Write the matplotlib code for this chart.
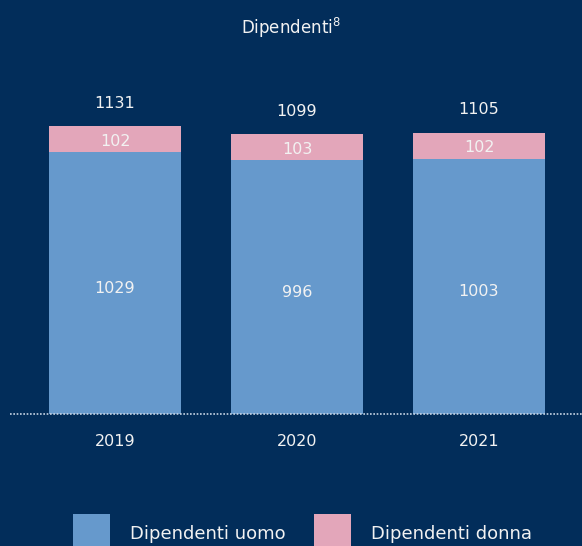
import matplotlib
matplotlib.use("Agg")
import matplotlib.pyplot as plt
import warnings
warnings.filterwarnings("ignore")

years = ["2019", "2020", "2021"]
uomo = [1029, 996, 1003]
donna = [102, 103, 102]
totals = [1131, 1099, 1105]
title = "Dipendenti$^{8}$"
labels = ["Dipendenti uomo", "Dipendenti donna"]

BG = "#022d5a"
BLUE = "#6699cc"
PINK = "#e3a6ba"
TXT = "#f2f2f2"

plt.rcParams['font.family'] = ['DejaVu Sans Condensed', 'Liberation Sans Narrow', 'DejaVu Sans']
plt.rcParams['mathtext.fontset'] = 'custom'

W, H = 582, 546
fig = plt.figure(figsize=(W/100, H/100), dpi=100, facecolor=BG)
ax = fig.add_axes([0, (H-414)/H, 1, 414/H])
ax.set_facecolor(BG)
for s in ax.spines.values():
    s.set_visible(False)
ax.set_xticks([]); ax.set_yticks([])

pxu = 288/1131.0
ax.set_ylim(0, 414/pxu)
ax.set_xlim(-115/182, 2 + (582-479)/182)

x = list(range(len(years)))
b1 = ax.bar(x, uomo, width=132/182, color=BLUE, label=labels[0], zorder=2)
b2 = ax.bar(x, donna, bottom=uomo, width=132/182, color=PINK, label=labels[1], zorder=2)

ax.axhline(0, xmin=10/582, xmax=1, color="#c8d4e4", lw=1.2, ls=(0, (1, 1)), zorder=3, clip_on=False)

fs = 11.5
for i in x:
    ax.text(i, uomo[i]/2 - 22, str(uomo[i]), ha='center', va='center', color=TXT, fontsize=fs)
    ax.text(i, uomo[i] + donna[i]/2 - 8, str(donna[i]), ha='center', va='center', color=TXT, fontsize=fs)
    ax.annotate(str(totals[i]), (i, uomo[i] + donna[i]), xytext=(0, 16.5), textcoords='offset points',
                ha='center', va='center', color=TXT, fontsize=fs)
    ax.text(i, -28/pxu, years[i], ha='center', va='center', color=TXT, fontsize=fs)

fig.text(0.5, 1 - 28/H, title, ha='center', va='center', color=TXT, fontsize=12)

fsl = 13
px = fsl * 100 / 72.0
leg = fig.legend(handles=[b1, b2], labels=labels, loc='upper left', bbox_to_anchor=(73/W, 1 - 514/H),
                 ncol=2, frameon=False, fontsize=fsl, handlelength=37/px, handleheight=55/px,
                 columnspacing=28/px, handletextpad=20/px, labelcolor=TXT, borderaxespad=0,
                 borderpad=0)

fig.savefig("out.png", dpi=100, facecolor=BG)
